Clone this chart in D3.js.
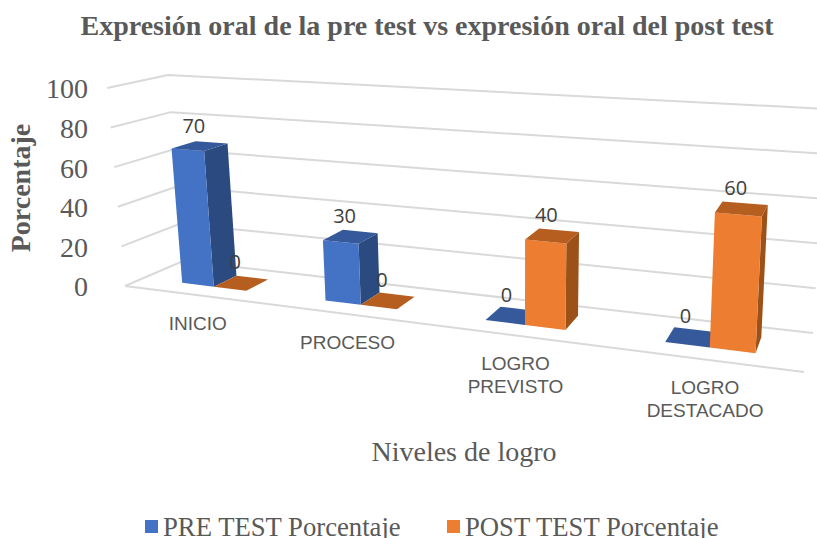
<!DOCTYPE html>
<html><head><meta charset="utf-8">
<script src="https://cdn.jsdelivr.net/npm/d3@7"></script>
<style>html,body{margin:0;padding:0;background:#fff}svg{display:block}</style>
</head><body><svg id="c" width="817" height="538"></svg>
<script>
const categories = [["INICIO"],["PROCESO"],["LOGRO","PREVISTO"],["LOGRO","DESTACADO"]];
const seriesNames = ["PRE TEST Porcentaje","POST TEST Porcentaje"];
const preValues = [70,30,0,0];
const postValues = [0,0,40,60];
const yTicks = [0,20,40,60,80,100];

const svg = d3.select("#c");
const serif = "'Liberation Serif','Times New Roman',serif";
const sans = "'Liberation Sans',Arial,sans-serif";
const gray = "#595959";

function homography(q){
  const [[x0,y0],[x1,y1],[x2,y2],[x3,y3]] = q;
  const dx1=x1-x2,dx2=x3-x2,sx=x0-x1+x2-x3,dy1=y1-y2,dy2=y3-y2,sy=y0-y1+y2-y3;
  const den=dx1*dy2-dx2*dy1,g=(sx*dy2-dx2*sy)/den,h=(dx1*sy-sx*dy1)/den;
  const a=x1-x0+g*x1,b=x3-x0+h*x3,d=y1-y0+g*y1,e=y3-y0+h*y3;
  return (u,v)=>{const w=g*u+h*v+1;return [(a*u+b*v+x0)/w,(d*u+e*v+y0)/w];};
}
const floorH = homography([[125,286],[804,372],[813,333],[183,261]]);
const vScale = d3.scaleLinear().domain([0,100]).range([0,1]);
// vertical edges converge below the floor: lean grows with distance from x=520, height grows with screen position
function proj(u,d,val){
  const p=floorH(u,d),t=vScale(val);
  const lean=(p[0]-520)*0.045, height=(57.4+0.00432*p[0]+0.49*p[1])*(1-0.12*d*(1-d));
  return [p[0]+lean*t,p[1]-height*t];
}
const line = d3.line();

// grid
const grid = svg.append("g").attr("fill","none").attr("stroke","#d9d9d9").attr("stroke-width",2);
yTicks.forEach(v=>{
  grid.append("path").attr("d",line([proj(0,0,v),proj(0,1,v),proj(1,1,v)]));
});
grid.append("path").attr("d",line([proj(0,0,0),proj(1,0,0)]));

// bars
const catScale = d3.scaleBand().domain(d3.range(categories.length)).range([0.005,1.005]).paddingInner(0.54).paddingOuter(0.27);
const serScale = d3.scaleBand().domain([0,1]).range([0,catScale.bandwidth()]);
const d0=0.3,d1=0.72;
const colors=[{front:"#4472C4",side:"#2B4A80",top:"#35599A"},{front:"#ED7D31",side:"#9C5119",top:"#B65E20"}];
const barsG=svg.append("g");
const labels=[];
[preValues,postValues].forEach((vals,s)=>{
  vals.forEach((v,i)=>{
    const u0=catScale(i)+serScale(s),u1=u0+serScale.bandwidth(),c=colors[s];
    const poly=(pts,f)=>barsG.append("path").attr("d",line(pts)+"Z").attr("fill",f);
    if(v>0){
      poly([proj(u1,d0,0),proj(u1,d1,0),proj(u1,d1,v),proj(u1,d0,v)],c.side);
      poly([proj(u0,d0,0),proj(u1,d0,0),proj(u1,d0,v),proj(u0,d0,v)],c.front);
    }
    poly([proj(u0,d0,v),proj(u1,d0,v),proj(u1,d1,v),proj(u0,d1,v)],c.top);
    labels.push([proj((u0+u1)/2,(d0+d1)/2,v),v]);
  });
});
svg.append("g").selectAll("text").data(labels).join("text")
  .attr("x",d=>d[0][0]-6).attr("y",d=>d[0][1]-21).attr("dy","0.35em")
  .attr("text-anchor","middle").attr("font-family","'Open Sans',sans-serif").attr("font-size",20).attr("fill","#404040")
  .text(d=>d[1]);

// y axis labels
const yAxisScale = d3.scaleLinear().domain([0,100]).range([287,89]);
const yAxis = svg.append("g").attr("transform","translate(88,0)").call(d3.axisLeft(yAxisScale).tickValues(yTicks).tickSize(0).tickPadding(0));
yAxis.select(".domain").remove();
yAxis.selectAll("text").attr("font-family",serif).attr("font-size",28).attr("fill",gray);

// category labels
categories.forEach((lines,i)=>{
  const u=catScale(i)+catScale.bandwidth()/2,p=proj(u,0,0);
  const t=svg.append("text").attr("text-anchor","middle").attr("font-family",sans).attr("font-size",19).attr("fill",gray);
  lines.forEach((l,j)=>t.append("tspan").attr("x",p[0]+1).attr("y",p[1]+35+j*22.5).text(l));
});

// titles
const txt=(x,y,s,size,extra={})=>{const t=svg.append("text").attr("x",x).attr("y",y).attr("font-family",serif).attr("font-size",size).attr("fill",gray).text(s);Object.entries(extra).forEach(([k,v])=>t.attr(k,v));return t;};
txt(427,35,"Expresión oral de la pre test vs expresión oral del post test",28,{"text-anchor":"middle","font-weight":"bold"});
txt(30,188,"Porcentaje",28,{"text-anchor":"middle","font-weight":"bold","transform":"rotate(-90 30 188)"});
txt(464,461,"Niveles de logro",28,{"text-anchor":"middle"});

// legend
const legendX=[145,447];
seriesNames.forEach((n,i)=>{
  svg.append("rect").attr("x",legendX[i]).attr("y",520).attr("width",13).attr("height",13).attr("fill",colors[i].front);
  txt(legendX[i]+18,536,n,26.7);
});
</script></body></html>
